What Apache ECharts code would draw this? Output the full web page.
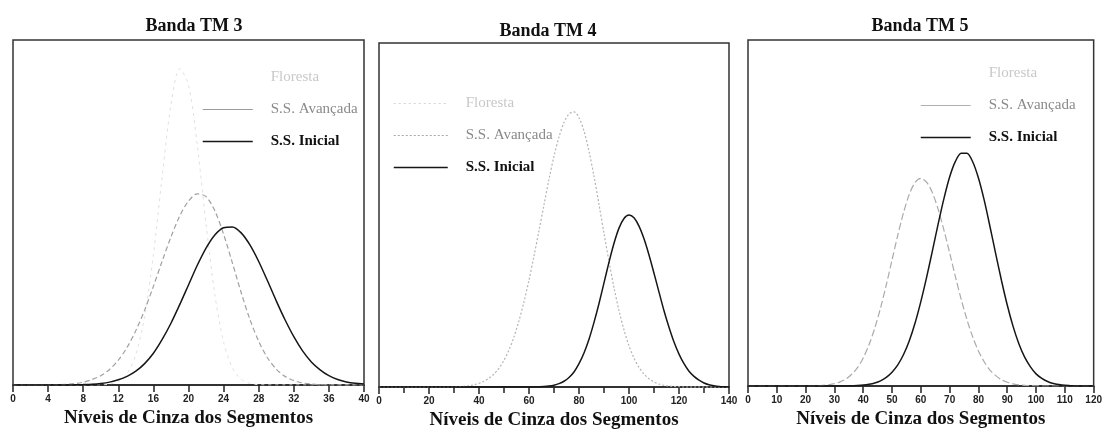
<!DOCTYPE html>
<html>
<head>
<meta charset="utf-8">
<script src="https://cdn.jsdelivr.net/npm/echarts@6/dist/echarts.min.js"></script>
<style>html,body{margin:0;padding:0;background:#fff}#c{width:1105px;height:435px}</style>
</head>
<body>
<div id="c"></div>
<script>
// ---- Data (y = % of plot height) ----
const panelTitles = ['Banda TM 3', 'Banda TM 4', 'Banda TM 5'];
const xAxisName = 'Níveis de Cinza dos Segmentos';
const seriesNames = ['Floresta', 'S.S. Avançada', 'S.S. Inicial'];

const tm3X = [0,1,2,3,4,5,6,7,8,9,10,11,12,13,14,15,16,17,18,19,20,21,22,23,24,25,26,27,28,29,30,31,32,33,34,35,36,37,38,39,40];
const tm3Floresta = [0,0,0,0,0,0,0,0,0,0,0,0.3,1.0,3.3,8.8,19.9,37.8,60.4,81.2,91.7,87.0,69.5,46.6,26.3,12.4,5.0,1.7,0.5,0.1,0,0,0,0,0,0,0,0,0,0,0,0];
const tm3Avancada = [0,0,0,0,0,0.1,0.2,0.4,0.8,1.6,2.7,4.5,7.2,10.9,15.8,21.7,28.6,35.9,42.9,49.0,53.3,55.4,54.6,50.5,43.7,35.4,26.8,19.0,12.7,7.9,4.6,2.5,1.3,0.6,0.3,0.1,0,0,0,0,0];
const tm3Inicial = [0,0,0,0,0,0,0.02,0.05,0.12,0.23,0.45,0.83,1.5,2.5,4.0,6.2,9.2,13.2,17.9,23.3,29.0,34.7,39.7,43.5,45.6,45.8,44.1,40.6,35.8,30.2,24.4,18.9,14.0,9.9,6.7,4.4,2.7,1.6,0.9,0.5,0.3];

const tm4X = [0,2,4,6,8,10,12,14,16,18,20,22,24,26,28,30,32,34,36,38,40,42,44,46,48,50,52,54,56,58,60,62,64,66,68,70,72,74,76,78,80,82,84,86,88,90,92,94,96,98,100,102,104,106,108,110,112,114,116,118,120,122,124,126,128,130,132,134,136,138,140];
const tm4Floresta = [];
const tm4Avancada = [0,0,0,0,0,0,0,0,0,0,0,0,0,0,0,0.08,0.14,0.24,0.4,0.67,1.1,1.7,2.6,3.8,5.5,7.8,10.8,14.6,19.3,24.8,31.1,38.1,45.5,53.0,60.4,67.1,72.7,76.9,79.4,80.0,78.3,74.4,68.5,61.3,53.1,44.7,36.5,28.9,22.2,16.6,12.0,8.4,5.7,3.8,2.4,1.5,0.9,0.5,0.3,0.2,0.1,0,0,0,0,0,0,0,0,0,0];
const tm4Inicial = [0,0,0,0,0,0,0,0,0,0,0,0,0,0,0,0,0,0,0,0,0,0,0,0,0,0,0,0,0,0,0.02,0.04,0.08,0.15,0.3,0.56,1.0,1.7,2.8,4.4,6.8,9.9,13.9,18.8,24.3,30.3,36.3,41.8,46.2,49.0,50.0,49.2,46.8,43.1,38.4,33.1,27.6,22.2,17.4,13.1,9.6,6.8,4.6,3.1,2.0,1.2,0.7,0.4,0.2,0.1,0.05];

const tm5X = [0,2,4,6,8,10,12,14,16,18,20,22,24,26,28,30,32,34,36,38,40,42,44,46,48,50,52,54,56,58,60,62,64,66,68,70,72,74,76,78,80,82,84,86,88,90,92,94,96,98,100,102,104,106,108,110,112,114,116,118,120];
const tm5Floresta = [];
const tm5Avancada = [0,0,0,0,0,0,0,0,0,0,0,0,0.09,0.2,0.36,0.67,1.2,2.0,3.4,5.3,8.1,11.9,16.7,22.5,29.2,36.4,43.6,50.1,55.4,58.8,60.0,58.9,55.9,51.1,45.1,38.5,31.6,25.1,19.2,14.2,10.1,7.0,4.6,3.0,1.8,1.1,0.6,0.35,0.2,0.1,0.05,0,0,0,0,0,0,0,0,0,0];
const tm5Inicial = [0,0,0,0,0,0,0,0,0,0,0,0,0,0,0,0,0,0,0.07,0.14,0.26,0.49,0.87,1.5,2.5,4.0,6.1,9.1,13.1,18.2,24.4,31.4,39.0,46.8,54.1,60.4,64.9,67.3,67.3,64.8,60.1,53.7,46.1,38.2,30.5,23.4,17.3,12.3,8.4,5.6,3.5,2.2,1.3,0.7,0.4,0.2,0.1,0,0,0,0];

const axisMax = [40, 140, 120];
const axisInterval = [4, 20, 10];

// ---- Layout / style ----
const SERIF = '"Liberation Serif","Times New Roman",serif';
const SANS = '"Liberation Sans",Arial,sans-serif';
const grids = [
  {left: 13, top: 40, width: 351, height: 345},
  {left: 379, top: 43, width: 350, height: 347},
  {left: 748, top: 40, width: 350, height: 346}
];
const nameGaps = [23, 18, 22];
const titlePos = [[189, 12], [543, 17], [915, 12]];
const legendPos = [[197, 65, 50], [388, 91, 54], [915, 61, 50]];

const panelX = [tm3X, tm4X, tm5X];
const panelData = [
  [tm3Floresta, tm3Avancada, tm3Inicial],
  [tm4Floresta, tm4Avancada, tm4Inicial],
  [tm5Floresta, tm5Avancada, tm5Inicial]
];
const avStyles = [
  {color: '#a0a0a0', width: 1.2, type: [5, 3]},
  {color: '#b4b4b4', width: 1.2, type: [2, 2]},
  {color: '#aaaaaa', width: 1.2, type: [7, 3]}
];
const avLegendLine = [
  {color: '#9a9a9a', width: 1, type: 'solid'},
  {color: '#aaaaaa', width: 1, type: [2, 2]},
  {color: '#b0b0b0', width: 1, type: 'solid'}
];
const flStyles = [
  {color: '#e0e0e0', width: 1, type: [3, 4]},
  {color: '#dcdcdc', width: 1, type: [2, 3]},
  {color: '#e4e4e4', width: 1, type: [3, 4]}
];
const flLegendLine = [
  {color: '#ffffff', width: 1, type: 'solid'},
  {color: '#d4d4d4', width: 1, type: [2, 3]},
  {color: '#ffffff', width: 1, type: 'solid'}
];
const iniStyle = {color: '#161616', width: 1.5, type: 'solid'};

function zip(xs, ys) { return ys.map((v, i) => [xs[i], v]); }

const series = [], xAxes = [], yAxes = [], titles = [], legends = [];
for (let p = 0; p < 3; p++) {
  xAxes.push({
    gridIndex: p, type: 'value', min: 0, max: axisMax[p], interval: axisInterval[p],
    axisLine: {lineStyle: {color: '#222', width: 1.5}},
    axisTick: {length: 7, lineStyle: {color: '#222', width: 1.5}},
    minorTick: {show: p === 1, splitNumber: 2, length: 6, lineStyle: {color: '#222', width: 1.5}},
    axisLabel: {fontSize: 10, fontWeight: 'bold', color: '#222', fontFamily: SANS, margin: 9},
    splitLine: {show: false},
    name: xAxisName, nameLocation: 'middle', nameGap: nameGaps[p],
    nameTextStyle: {fontFamily: SERIF, fontSize: 19, fontWeight: 'bold', color: '#111'}
  });
  yAxes.push({gridIndex: p, type: 'value', min: 0, max: 100, show: false});
  titles.push({
    text: panelTitles[p], left: titlePos[p][0], top: titlePos[p][1], textAlign: 'center',
    textStyle: {fontFamily: SERIF, fontSize: 18, fontWeight: 'bold', color: '#111'}
  });
  const styles = [flStyles[p], avStyles[p], iniStyle];
  const legendLines = [flLegendLine[p], avLegendLine[p], {color: '#161616', width: 1.5, type: 'solid'}];
  const textStyles = [
    {color: '#c8c8c8', fontWeight: 'normal'},
    {color: '#8a8a8a', fontWeight: 'normal'},
    {color: '#111', fontWeight: 'bold'}
  ];
  const legendData = [];
  for (let s = 0; s < 3; s++) {
    const nm = seriesNames[s] + '|' + p;
    series.push({
      name: nm, type: 'line', xAxisIndex: p, yAxisIndex: p,
      data: zip(panelX[p], panelData[p][s]),
      smooth: 0.3, symbol: 'none', showSymbol: false,
      lineStyle: styles[s], itemStyle: {color: styles[s].color},
      z: 2 + s, silent: true
    });
    legendData.push({name: nm, textStyle: textStyles[s], lineStyle: legendLines[s],
      itemStyle: {opacity: 0, borderWidth: 0}});
  }
  legends.push({
    orient: 'vertical', left: legendPos[p][0], top: legendPos[p][1],
    itemWidth: legendPos[p][2], itemHeight: 14, itemGap: 17, selectedMode: false,
    itemStyle: {opacity: 0, borderWidth: 0},
    data: legendData,
    formatter: n => n.split('|')[0],
    textStyle: {fontFamily: SERIF, fontSize: 15, lineHeight: 14, padding: [0, 0, 0, 13]}
  });
}

const chart = echarts.init(document.getElementById('c'), null, {renderer: 'canvas'});
chart.setOption({
  animation: false,
  backgroundColor: '#fff',
  title: titles,
  legend: legends,
  grid: grids.map(g => Object.assign({show: true, borderColor: '#333', borderWidth: 1.5, backgroundColor: '#fff', containLabel: false}, g)),
  xAxis: xAxes,
  yAxis: yAxes,
  series: series
});
</script>
</body>
</html>
